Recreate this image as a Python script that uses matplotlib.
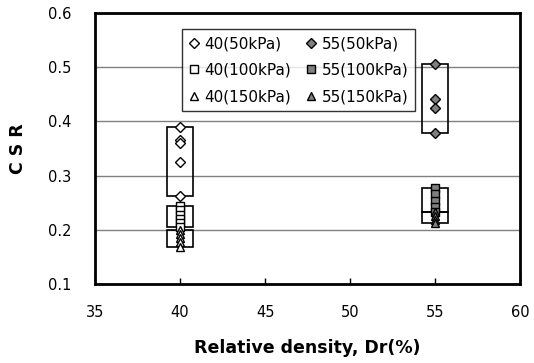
import matplotlib
matplotlib.use("Agg")
import matplotlib.pyplot as plt
from matplotlib.patches import Rectangle

# Relative density groups (%)
dr_values = [40, 55]

# Cyclic stress ratio measured at each density and confining pressure
csr_40_50 = [0.389, 0.366, 0.361, 0.326, 0.262]
csr_40_100 = [0.244, 0.236, 0.228, 0.220, 0.212, 0.206]
csr_40_150 = [0.200, 0.192, 0.184, 0.177, 0.168]
csr_55_50 = [0.506, 0.441, 0.424, 0.378]
csr_55_100 = [0.277, 0.266, 0.254, 0.242, 0.232]
csr_55_150 = [0.232, 0.225, 0.218, 0.212]

# Ordered column by column so the two-column legend reads row by row
series = [
    ("40(50kPa)", 40, csr_40_50, "D", "white"),
    ("40(100kPa)", 40, csr_40_100, "s", "white"),
    ("40(150kPa)", 40, csr_40_150, "^", "white"),
    ("55(50kPa)", 55, csr_55_50, "D", "#808080"),
    ("55(100kPa)", 55, csr_55_100, "s", "#808080"),
    ("55(150kPa)", 55, csr_55_150, "^", "#808080"),
]

x_ticks = [35, 40, 45, 50, 55, 60]
y_ticks = [0.1, 0.2, 0.3, 0.4, 0.5, 0.6]

plt.rcParams["font.family"] = ["DejaVu Sans"]

fig = plt.figure(figsize=(5.34, 3.63), dpi=100)
ax = fig.add_axes([0.178, 0.2176, 0.796, 0.7466])

half_w = 0.75
handles = []
for label, dr, vals, mk, fc in series:
    lo, hi = min(vals), max(vals)
    ax.add_patch(Rectangle((dr - half_w, lo), 2 * half_w, hi - lo,
                           fill=False, edgecolor="black", linewidth=1.2, zorder=3))
    h, = ax.plot([dr] * len(vals), vals, linestyle="none", marker=mk,
                 markersize=5.5 if mk != "D" else 4.8,
                 markerfacecolor=fc, markeredgecolor="black",
                 markeredgewidth=1.0, label=label, zorder=4)
    handles.append(h)

ax.set_xlim(35, 60)
ax.set_ylim(0.1, 0.6)
ax.set_xticks(x_ticks)
ax.set_yticks(y_ticks)
ax.set_xticklabels([str(t) for t in x_ticks], fontsize=10.5)
ax.set_yticklabels([f"{t:.1f}" for t in y_ticks], fontsize=10.5)
ax.tick_params(axis="x", direction="in", length=4, width=1, pad=15)
ax.tick_params(axis="y", length=0, pad=17)

ax.yaxis.grid(True, color="#808080", linewidth=1.0)
ax.set_axisbelow(True)
for sp in ax.spines.values():
    sp.set_linewidth(2.0)
    sp.set_color("black")

ax.set_xlabel("Relative density, Dr(%)", fontsize=12.5, fontweight="bold",
              labelpad=14)
ax.set_ylabel("C S R", fontsize=12.5, fontweight="bold", labelpad=15)

leg = ax.legend(handles=handles, ncol=2, loc="upper left",
                bbox_to_anchor=(0.205, 0.94), fontsize=11,
                frameon=True, fancybox=False, handlelength=0.6,
                handletextpad=0.4, columnspacing=1.0, labelspacing=0.75,
                borderpad=0.45, borderaxespad=0)
leg.get_frame().set_edgecolor("black")
leg.get_frame().set_linewidth(1.0)
leg.set_zorder(5)

fig.savefig("out.png", dpi=100)
